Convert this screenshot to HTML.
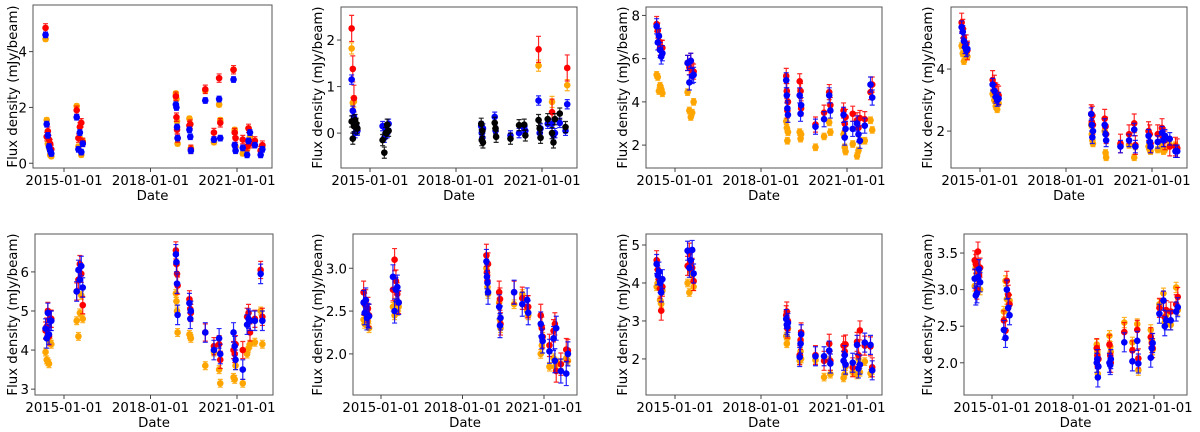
<!DOCTYPE html>
<html>
<head>
<meta charset="utf-8">
<style>
html,body{margin:0;padding:0;background:#fff;}
svg{display:block;font-family:"DejaVu Sans","Liberation Sans",sans-serif;}
</style>
</head>
<body>
<svg id="fig" width="1200" height="432" viewBox="0 0 1200 432"></svg>
<script>
// ---- shared observation epochs (decimal years) ----
const epochs = [2014.36,2014.40,2014.44,2014.48,2014.52,2014.56,
  2015.44,2015.50,2015.55,2015.60,2015.65,
  2018.88,2018.90,2018.92,2018.94,
  2019.35,2019.38,2019.40,
  2019.90,2020.20,2020.38,2020.42,
  2020.88,2020.92,2020.95,
  2021.20,2021.35,2021.40,2021.45,
  2021.62,2021.82,2021.88];
const xTickYears = [2015, 2018, 2021];
const xTickLabels = ["2015-01-01","2018-01-01","2021-01-01"];
const N = null;

// ---- panel 1 ----
const p1Orange = [4.45,1.55,0.7,0.55,0.3,0.25, 2.05,0.6,0.9,0.3,0.8, 2.5,2.3,1.5,0.7, 1.6,1.4,0.55, 2.6,0.75,2.1,1.55, 3.35,1.2,0.6, 0.35,0.5,1.25,0.95, 0.8,0.45,0.6];
const p1Red    = [4.85,0.95,1.15,0.85,0.7,0.5, 1.9,0.9,1.3,1.45,0.75, 2.4,1.65,1.2,0.9, 1.35,1.4,0.5, 2.65,1.1,3.05,1.45, 3.35,1.1,0.9, 0.85,0.6,1.25,0.7, 0.8,0.45,0.65];
const p1Blue   = [4.6,1.4,1.0,0.6,0.45,0.35, 1.65,0.5,1.1,0.4,0.7, 2.1,2.0,1.3,0.9, 1.2,0.95,0.45, 2.25,0.85,2.3,0.9, 3.0,0.65,0.45, 0.55,0.3,0.8,1.1, 0.65,0.3,0.5];
const p1YTicks = [0,2,4];
// ---- panel 2 ----
const p2Orange = [1.82,0.65,0.68,N,N,N, N,N,N,N,N, N,N,N,N, N,N,N, N,N,N,N, 1.45,N,N, N,0.67,N,N, N,N,1.03];
const p2Red    = [2.25,1.38,0.75,N,N,N, N,N,N,N,N, N,N,N,N, N,N,N, N,N,N,N, 1.8,N,N, N,0.45,N,N, N,N,1.4];
const p2Black  = [0.25,-0.12,0.15,0.28,0.2,0.1, -0.15,-0.42,0.0,0.18,0.05, 0.2,-0.15,0.05,-0.2, 0.22,0.1,-0.08, -0.12,0.17,0.18,-0.05, 0.28,0.1,-0.1, 0.3,0.0,-0.2,0.3, 0.42,0.13,N];
const p2Blue   = [1.15,0.48,0.35,0.0,0.1,0.05, 0.15,-0.1,0.1,0.0,0.2, 0.15,0.0,-0.1,0.1, 0.35,0.05,N, -0.05,0.0,0.1,0.05, 0.7,0.0,0.1, 0.2,0.2,-0.05,0.0, 0.22,0.05,0.62];
const p2YTicks = [0,1,2];
// ---- panel 3 ----
const p3Orange = [5.25,5.15,4.5,4.75,4.6,4.4, 4.45,3.6,3.3,3.5,4.0, 3.1,2.8,2.2,2.6, 2.6,2.3,2.5, 1.9,2.4,3.05,2.6, 2.5,1.9,1.7, 2.05,1.5,1.75,2.2, 2.2,3.15,2.7];
const p3Red    = [7.6,7.3,6.8,6.5,6.5,6.5, 5.8,5.6,5.9,5.45,5.4, 5.2,4.5,3.6,4.0, 4.95,4.5,3.7, 2.95,3.5,4.45,3.85, 3.6,3.0,3.3, 3.45,3.15,2.8,3.25, 3.2,4.45,4.8];
const p3Blue   = [7.5,6.75,7.05,6.4,6.1,6.25, 5.8,4.9,5.9,5.2,5.25, 5.0,4.3,3.7,3.4, 4.3,3.45,3.85, 2.85,3.2,4.3,3.6, 3.4,2.35,2.75, 2.75,3.0,2.5,2.2, 2.9,4.8,4.2];
const p3YTicks = [2,4,6,8];
// ---- panel 4 ----
const p4Orange = [4.75,4.5,4.25,4.45,4.55,4.4, 3.2,3.0,2.8,2.7,2.9, 2.2,1.9,1.7,1.6, 2.0,1.3,1.15, 1.55,1.55,1.15,1.5, 1.5,1.4,1.35, 1.4,1.5,1.35,1.4, 1.55,1.55,1.45];
const p4Red    = [5.5,5.3,5.0,4.8,4.8,4.6, 3.65,3.5,3.25,3.2,3.15, 2.55,2.3,2.5,2.2, 2.4,2.15,1.9, 1.6,1.9,2.25,1.55, 2.0,1.9,1.6, 1.9,2.1,1.8,1.7, 1.5,1.5,1.45];
const p4Blue   = [5.35,5.2,4.9,4.7,4.6,4.65, 3.5,3.3,3.1,3.0,3.05, 2.55,2.2,1.8,2.0, 2.2,1.9,1.7, 1.5,1.7,2.05,1.5, 1.85,1.65,1.5, 1.65,1.95,1.7,1.85, 1.75,1.35,1.35];
const p4YTicks = [2,4];
// ---- panel 5 ----
const p5Orange = [3.95,3.75,3.7,3.65,4.2,4.15, 4.75,4.35,4.95,5.4,4.8, 5.45,5.25,5.0,4.45, 4.4,4.35,4.3, 3.6,3.95,3.5,3.15, 3.3,3.25,3.6, 3.15,3.9,4.05,4.15, 4.2,5.0,4.15];
const p5Red    = [4.5,4.6,5.0,4.35,4.8,4.8, 5.5,5.8,6.2,5.95,5.15, 6.55,6.2,5.95,5.65, 5.3,5.05,4.95, 4.45,4.1,4.15,3.75, 4.0,3.9,4.15, 4.0,4.85,4.95,4.45, 4.8,6.05,4.85];
const p5Blue   = [4.55,4.3,4.95,4.4,4.75,4.75, 5.5,6.05,5.8,6.15,5.6, 6.45,6.25,5.7,4.9, 5.2,4.8,5.0, 4.45,4.0,4.3,3.9, 4.45,4.1,3.75, 3.5,4.65,4.8,4.75, 4.75,5.95,4.75];
const p5YTicks = [3,4,5,6];
// ---- panel 6 ----
const p6Orange = [2.4,2.35,2.55,2.4,2.38,2.3, 2.55,2.45,2.6,2.5,2.55, 3.0,2.95,2.78,2.7, 2.6,2.4,2.3, 2.58,2.7,2.5,2.45, 2.0,2.1,2.2, 1.85,1.95,1.85,1.9, 1.88,1.95,1.92];
const p6Red    = [2.72,2.58,2.62,2.5,2.53,2.45, 2.75,3.1,2.85,2.7,2.6, 3.15,2.95,2.85,3.05, 2.72,2.64,2.35, 2.72,2.65,2.55,2.55, 2.45,2.3,2.2, 2.1,2.27,2.35,1.8, 1.88,2.05,2.04];
const p6Blue   = [2.6,2.48,2.63,2.42,2.45,2.44, 2.9,2.5,2.75,2.78,2.6, 3.08,2.9,2.83,2.72, 2.55,2.33,2.42, 2.72,2.58,2.63,2.48, 2.35,2.2,2.15, 2.03,2.18,1.92,2.3, 1.8,1.77,2.0];
const p6YTicks = [2.0,2.5,3.0];
// ---- panel 7 ----
const p7Orange = [3.9,4.0,3.95,3.55,3.45,3.8, 4.0,3.75,4.3,4.2,3.9, 2.6,2.4,2.55,2.8, 1.95,2.2,2.0, 1.97,1.52,1.95,1.6, 1.5,1.6,1.8, 1.65,1.58,2.0,1.65, 1.93,1.62,1.7];
const p7Red    = [4.6,4.35,4.1,3.85,3.27,3.9, 4.45,4.8,4.55,4.4,4.05, 3.15,3.25,2.8,3.0, 2.1,2.5,2.7, 2.1,1.95,2.4,1.95, 2.35,2.2,2.38, 1.78,2.45,2.1,2.75, 2.35,2.33,1.78];
const p7Blue   = [4.5,4.2,4.3,4.0,3.75,4.1, 4.85,4.4,4.6,4.87,4.25, 3.05,2.9,2.85,2.95, 2.05,2.4,2.65, 2.07,2.07,2.22,1.88, 1.95,2.1,1.85, 1.9,2.37,1.75,1.85, 2.43,2.37,1.7];
const p7YTicks = [2,3,4,5];
// ---- panel 8 ----
const p8Orange = [3.05,3.3,3.2,3.15,3.25,3.0, 2.7,3.12,2.87,2.75,2.85, 2.25,2.15,1.85,2.05, 2.37,2.22,2.15, 2.55,2.28,2.53,1.9, 2.45,2.3,2.18, 2.8,2.95,2.55,2.65, 2.52,3.03,2.72];
const p8Red    = [3.4,3.35,3.0,3.52,3.2,3.3, 2.58,2.44,3.12,2.93,2.8, 2.2,2.1,1.95,2.05, 2.25,2.1,2.0, 2.42,2.17,2.45,2.06, 2.35,2.27,2.2, 2.75,2.85,2.62,2.72, 2.7,2.8,2.9];
const p8Blue   = [3.15,2.92,2.95,3.17,3.28,3.1, 2.45,2.34,3.0,2.75,2.65, 2.0,2.05,1.8,1.95, 2.0,1.97,2.05, 2.28,2.02,2.3,1.99, 2.07,2.2,2.27, 2.67,2.85,2.5,2.58, 2.58,2.7,2.76];
const p8YTicks = [2.0,2.5,3.0,3.5];

const panels = [
 {id:1, box:[33,5,272,168], ylim:[-0.17,5.67], x15:64, x21:237, yt:p1YTicks, dec:0, labX:13,
  series:[["orange",p1Orange,0.08,"#FFA500"],["red",p1Red,0.15,"#FF0000"],["blue",p1Blue,0.1,"#0000FF"]]},
 {id:2, box:[341,7,577,168], ylim:[-0.75,2.71], x15:370, x21:542, yt:p2YTicks, dec:0, labX:318,
  series:[["orange",p2Orange,0.12,"#FFA500"],["red",p2Red,0.28,"#FF0000"],["blue",p2Blue,0.1,"#0000FF"],["black",p2Black,0.12,"#000000"]]},
 {id:3, box:[646,7,882,168], ylim:[0.94,8.39], x15:675, x21:847, yt:p3YTicks, dec:0, labX:623,
  series:[["orange",p3Orange,0.15,"#FFA500"],["red",p3Red,0.35,"#FF0000"],["blue",p3Blue,0.35,"#0000FF"]]},
 {id:4, box:[951,7,1187,168], ylim:[0.81,6.0], x15:980, x21:1152, yt:p4YTicks, dec:0, labX:928,
  series:[["orange",p4Orange,0.1,"#FFA500"],["red",p4Red,0.3,"#FF0000"],["blue",p4Blue,0.2,"#0000FF"]]},
 {id:5, box:[35,234,273,395], ylim:[2.85,6.97], x15:64, x21:237, yt:p5YTicks, dec:0, labX:13,
  series:[["orange",p5Orange,0.1,"#FFA500"],["red",p5Red,0.22,"#FF0000"],["blue",p5Blue,0.25,"#0000FF"]]},
 {id:6, box:[353,234,577,395], ylim:[1.52,3.40], x15:381, x21:544, yt:p6YTicks, dec:1, labX:318,
  series:[["orange",p6Orange,0.05,"#FFA500"],["red",p6Red,0.13,"#FF0000"],["blue",p6Blue,0.14,"#0000FF"]]},
 {id:7, box:[646,234,882,395], ylim:[1.05,5.29], x15:675, x21:847, yt:p7YTicks, dec:0, labX:623,
  series:[["orange",p7Orange,0.1,"#FFA500"],["red",p7Red,0.25,"#FF0000"],["blue",p7Blue,0.25,"#0000FF"]]},
 {id:8, box:[964,234,1187,395], ylim:[1.56,3.76], x15:992, x21:1154, yt:p8YTicks, dec:1, labX:928,
  series:[["orange",p8Orange,0.07,"#FFA500"],["red",p8Red,0.13,"#FF0000"],["blue",p8Blue,0.13,"#0000FF"]]}
];

const NS = "http://www.w3.org/2000/svg";
const fig = document.getElementById("fig");
function mk(tag, attrs, parent){
  const e = document.createElementNS(NS, tag);
  for (const k in attrs) e.setAttribute(k, attrs[k]);
  parent.appendChild(e);
  return e;
}
const FS = 13.3;

panels.forEach(p => {
  const [L,T,R,B] = p.box;
  const g = mk("g", {}, fig);
  
  
  const xs = yr => p.x15 + (yr - 2015) * (p.x21 - p.x15) / 6;
  const ys = v => B - (v - p.ylim[0]) / (p.ylim[1] - p.ylim[0]) * (B - T);

  const dg = mk("g", {}, g);
  
  
  p.series.forEach(s => {
    const [name, vals, err, col] = s;
    const sg = mk("g", {}, dg);
    
    
    vals.forEach((v, i) => {
      if (v === null) return;
      const x = xs(epochs[i]);
      const y0 = ys(v - err), y1 = ys(v + err);
      const eb = mk("path", {d:`M${x},${y0}V${y1}M${x-2.5},${y0}H${x+2.5}M${x-2.5},${y1}H${x+2.5}`, stroke:col, "stroke-width":1.2, fill:"none", opacity:0.85}, sg);
      
      
      const c = mk("circle", {cx:x, cy:ys(v), r:3.3, fill:col}, sg);
      
      
    });
  });

  const fr = mk("rect", {x:L, y:T, width:R-L, height:B-T, fill:"none", stroke:"#555", "stroke-width":1}, g);
  
  

  xTickYears.forEach((yr, i) => {
    const x = xs(yr);
    mk("line", {x1:x, y1:B, x2:x, y2:B+4, stroke:"#444", "stroke-width":1}, g);
    const t = mk("text", {x:x, y:B+17, "font-size":FS, "text-anchor":"middle", fill:"#000"}, g);
    t.textContent = xTickLabels[i];
    
    
  });
  p.yt.forEach(v => {
    const y = ys(v);
    mk("line", {x1:L-4, y1:y, x2:L, y2:y, stroke:"#444", "stroke-width":1}, g);
    const t = mk("text", {x:L-6, y:y+5, "font-size":FS, "text-anchor":"end", fill:"#000"}, g);
    t.textContent = v.toFixed(p.dec);
    
    
  });
  const xt = mk("text", {x:(L+R)/2, y:B+32, "font-size":FS, "text-anchor":"middle", fill:"#000"}, g);
  xt.textContent = "Date";
  
  
  const cy = (T+B)/2;
  const yt = mk("text", {x:p.labX, y:cy, "font-size":FS, "text-anchor":"middle", fill:"#000", transform:`rotate(-90 ${p.labX} ${cy})`, "dominant-baseline":"middle"}, g);
  yt.textContent = "Flux density (mJy/beam)";
  
  
});
</script>
</body>
</html>
